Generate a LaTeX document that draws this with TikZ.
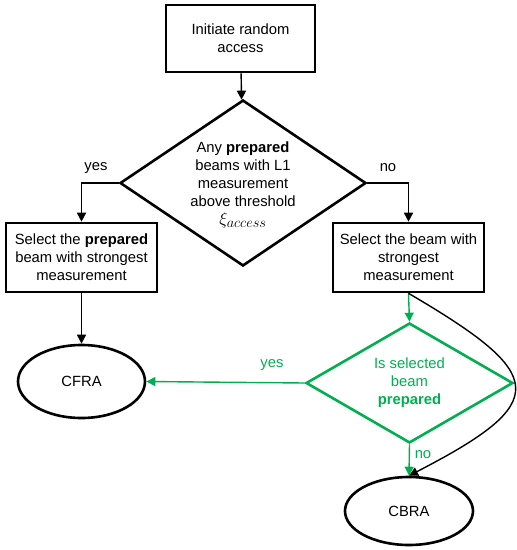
\documentclass[tikz,border=0pt]{standalone}
\usepackage{fontspec}
\setmainfont{Liberation Sans}
\usetikzlibrary{shapes.geometric,arrows.meta}
\definecolor{grn}{RGB}{0,176,80}
\begin{document}
\begin{tikzpicture}[x=1pt,y=-1pt,
  every node/.style={font=\fontsize{14.8}{18}\selectfont},
  box/.style={draw,line width=2.6pt,minimum width=#1,align=center,inner sep=0pt},
  dia/.style={draw,diamond,line width=2.6pt,inner sep=0pt},
  ell/.style={draw,ellipse,line width=2.6pt,inner sep=0pt},
  conn/.style={line width=1.4pt,-{Triangle[length=9pt,width=9pt]}},
  gconn/.style={conn,draw=grn,fill=grn},
  lbl/.style={inner sep=0pt}]
\useasboundingbox (0,0) rectangle (517,550);
\node[box=149pt,minimum height=67pt] (start) at (240.5,38.5) {Initiate random\\access};
\node[dia,minimum width=246pt,minimum height=166pt] (d1) at (243,183) {};
\node[align=center,inner sep=0pt] (d1t) at (243,185) {Any \textbf{prepared}\\beams with L1\\measurement\\above threshold\\{\fontsize{19}{18}\selectfont$\xi_{access}$}};
\node[box=151pt,minimum height=69pt] (lb) at (81.5,257.5) {Select the \textbf{prepared}\\beam with strongest\\measurement};
\node[box=151pt,minimum height=69pt] (rb) at (408.5,257.5) {Select the beam with\\strongest\\measurement};
\node[dia,draw=grn,minimum width=207pt,minimum height=120pt] (d2) at (409.5,383) {};
\node[align=center,inner sep=0pt,text=grn] (d2t) at (409.5,383) {Is selected\\beam\\\textbf{prepared}};
\node[ell,minimum width=127pt,minimum height=73pt] (cfra) at (81.5,381.5) {CFRA};
\node[ell,minimum width=128pt,minimum height=68pt] (cbra) at (409,511) {CBRA};
\draw[conn] (start) -- (d1);
\draw[conn] (d1.west) -| (lb.north);
\draw[conn] (d1.east) -| (rb.north);
\draw[conn] (lb) -- (cfra);
\draw[gconn] (rb.south) -- (d2.north);
\draw[gconn] (d2.west) -- (cfra.east);
\draw[gconn] (d2.south) -- (cbra.north);
\draw[conn] (rb.south) .. controls (548,375) and (552,402) .. (cbra.north);
\node[lbl] (ly) at (96,168) {yes};
\node[lbl] (ln) at (388,168) {no};
\node[lbl,text=grn] (gy) at (272,365) {yes};
\node[lbl,text=grn] (gn) at (423,455) {no};
\end{tikzpicture}
\end{document}
